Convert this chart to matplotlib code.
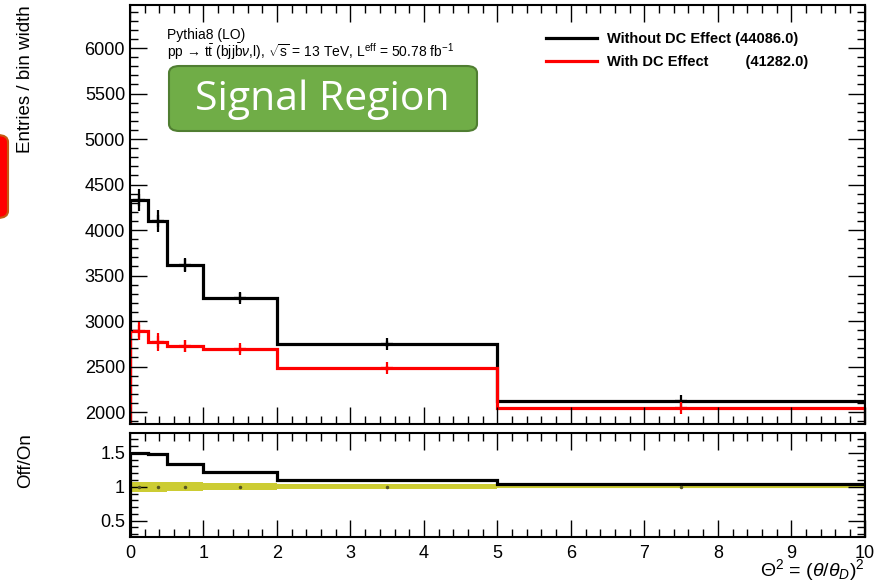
import numpy as np
import matplotlib
matplotlib.use("Agg")
import matplotlib.pyplot as plt
from matplotlib.patches import FancyBboxPatch
from matplotlib.ticker import MultipleLocator

plt.rcParams['font.family'] = ['Liberation Sans', 'DejaVu Sans']
plt.rcParams['mathtext.fontset'] = 'custom'
plt.rcParams['mathtext.rm'] = 'Liberation Sans'
plt.rcParams['mathtext.it'] = 'Liberation Sans:italic'
plt.rcParams['mathtext.bf'] = 'Liberation Sans:bold'

# bin edges in Theta^2
edges = np.array([0, 0.25, 0.5, 1, 2, 5, 10])
centers = 0.5 * (edges[1:] + edges[:-1])

# entries / bin width
off_vals = np.array([4328, 4098, 3617, 3257, 2745, 2121])
off_err = np.array([120, 120, 80, 50, 30, 12])
on_vals = np.array([2890, 2765, 2721, 2689, 2481, 2045])
on_err = np.array([100, 100, 65, 45, 25, 10])

# relative error band on the ratio (On/On)
band_err = np.array([0.075, 0.075, 0.065, 0.05, 0.035, 0.018])

ratio = off_vals / on_vals

fig = plt.figure(figsize=(8.78, 5.83), dpi=100)
ax = fig.add_axes([0.148, 0.273, 0.837, 0.718])
rx = fig.add_axes([0.148, 0.079, 0.837, 0.178])

# main panel
ax.stairs(off_vals, edges, color='black', lw=2.3)
ax.stairs(on_vals, edges, color='#ff0000', lw=2.3)
ax.errorbar(centers, off_vals, yerr=off_err, fmt='+', color='black',
            ms=9, mew=1.6, elinewidth=1.6, capsize=0)
ax.errorbar(centers, on_vals, yerr=on_err, fmt='+', color='#ff0000',
            ms=9, mew=1.6, elinewidth=1.6, capsize=0)

ax.set_xlim(0, 10)
ax.set_ylim(1870, 6470)
ax.yaxis.set_major_locator(MultipleLocator(500))
ax.yaxis.set_minor_locator(MultipleLocator(100))
ax.xaxis.set_major_locator(MultipleLocator(1))
ax.xaxis.set_minor_locator(MultipleLocator(0.2))
ax.set_xticklabels([])
ax.set_ylabel('Entries / bin width', fontsize=13.5, loc='top')
ax.yaxis.set_label_coords(-0.13, 1.0)

# ratio panel
rx.stairs(1 + band_err, edges, baseline=1 - band_err, fill=True,
          color='#cccc33', lw=0)
rx.stairs(np.ones(len(centers)), edges, color='#cccc33', lw=1.5)
rx.plot(centers, np.ones(len(centers)), 'o', color='#555522', ms=1.5)
rx.stairs(ratio, edges, color='black', lw=2.3)

rx.set_xlim(0, 10)
rx.set_ylim(0.26, 1.79)
rx.set_yticks([0.5, 1, 1.5])
rx.set_yticklabels(['0.5', '1', '1.5'])
rx.yaxis.set_minor_locator(MultipleLocator(0.1))
rx.xaxis.set_major_locator(MultipleLocator(1))
rx.xaxis.set_minor_locator(MultipleLocator(0.2))
rx.set_ylabel('Off/On', fontsize=13.5, loc='top')
rx.yaxis.set_label_coords(-0.13, 1.0)
rx.set_xlabel(r'$\Theta^{2}$ = ($\theta$/$\theta_{D}$)$^{2}$', fontsize=14,
              loc='right', labelpad=-4)

for a in (ax, rx):
    a.tick_params(which='both', direction='in', top=True, right=True,
                  labelsize=13, width=1.0)
    a.tick_params(which='major', length=12)
    a.tick_params(which='minor', length=6)
    for s in a.spines.values():
        s.set_linewidth(1.5)
rx.tick_params(axis='x', which='both', pad=6)

# legend
ax.legend(handles=[plt.Line2D([], [], color='black', lw=2.3),
                   plt.Line2D([], [], color='#ff0000', lw=2.3)],
          labels=['Without DC Effect (44086.0)', 'With DC Effect         (41282.0)'],
          loc='upper left', bbox_to_anchor=(0.548, 0.968), frameon=False,
          prop={'weight': 'bold', 'size': 10.5}, handlelength=3.5,
          handletextpad=0.7, labelspacing=0.65)

# labels in the top left
ax.text(0.05, 0.928, 'Pythia8 (LO)', transform=ax.transAxes, fontsize=10,
        va='center')
ax.text(0.05, 0.888,
        r'pp → t$\bar{\mathrm{t}}$ (bjj$\bar{\mathrm{b}}\nu$,l), $\sqrt{\mathrm{s}}$ = 13 TeV, L$^{\mathrm{eff}}$ = 50.78 fb$^{-1}$',
        transform=ax.transAxes, fontsize=10, va='center')

# green "Signal Region" box
gbox = FancyBboxPatch((169 / 878, 1 - 131 / 583), 308 / 878, 65 / 583,
                      boxstyle='round,pad=0,rounding_size=0.012',
                      transform=fig.transFigure, facecolor='#70ad47',
                      edgecolor='#507e32', lw=1.5, zorder=5)
fig.patches.append(gbox)
fig.text(322 / 878, 1 - 100 / 583, 'Signal Region', color='white',
         fontsize=29.5, family='Open Sans', ha='center', va='center', zorder=6)

# red box cut at the left edge
rbox = FancyBboxPatch((-30 / 878, 1 - 218 / 583), 38 / 878, 83 / 583,
                      boxstyle='round,pad=0,rounding_size=0.012',
                      transform=fig.transFigure, facecolor='#ff0000',
                      edgecolor='#c55a11', lw=1.5)
fig.patches.append(rbox)

fig.savefig('out.png', dpi=100)
